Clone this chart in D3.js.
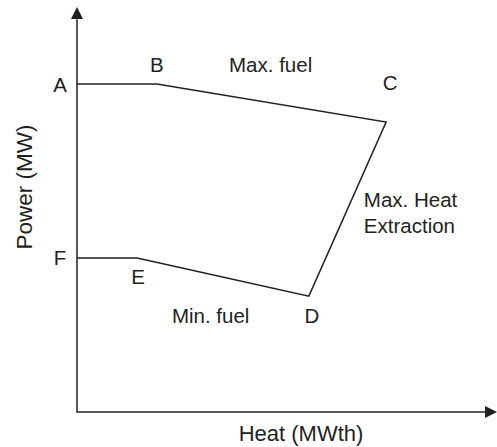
<!DOCTYPE html>
<html>
<head>
<meta charset="utf-8">
<script src="https://cdn.jsdelivr.net/npm/d3@7"></script>
<style>
body { margin: 0; background: #fff; }
text { font-family: "Liberation Sans", Arial, sans-serif; fill: #231f20; }
</style>
</head>
<body>
<script>
// operating region corners (heat, power), arbitrary units
var pointNames = ["A", "B", "C", "D", "E", "F"];
var heat  = [0, 19, 73.6, 55.2, 14.3, 0];
var power = [81, 81, 71.6, 28.6, 38, 38];

// boundary labels
var edgeNames = ["Max. fuel", "Max. Heat|Extraction", "Min. fuel"];
var edgeHeat  = [36.2, 68.3, 22.6];
var edgePower = [84, 50.6, 22];

var width = 497, height = 447;
var ink = "#231f20";

var x = d3.scaleLinear().domain([0, 100]).range([77, 497]);
var y = d3.scaleLinear().domain([0, 100]).range([412, 7]);

var svg = d3.select("body").append("svg")
    .attr("width", width)
    .attr("height", height);

var pts = pointNames.map(function(n, i) { return {name: n, h: heat[i], p: power[i]}; });

// axes with arrows
svg.append("line")
    .attr("x1", x(0)).attr("y1", y(0) + 0.75)
    .attr("x2", x(0)).attr("y2", y(97))
    .attr("stroke", ink).attr("stroke-width", 1.5);
svg.append("line")
    .attr("x1", x(0)).attr("y1", y(0))
    .attr("x2", x(98)).attr("y2", y(0))
    .attr("stroke", ink).attr("stroke-width", 1.5);

svg.append("path")
    .attr("d", "M" + x(0) + "," + y(100) + "L" + (x(0) - 6) + "," + (y(100) + 12) + "L" + (x(0) + 6) + "," + (y(100) + 12) + "Z")
    .attr("fill", ink);
svg.append("path")
    .attr("d", "M" + x(100) + "," + y(0) + "L" + (x(100) - 12) + "," + (y(0) - 6) + "L" + (x(100) - 12) + "," + (y(0) + 6) + "Z")
    .attr("fill", ink);

// region boundary
var line = d3.line()
    .x(function(d) { return x(d.h); })
    .y(function(d) { return y(d.p); });

svg.append("path")
    .datum(pts)
    .attr("d", line)
    .attr("fill", "none")
    .attr("stroke", ink)
    .attr("stroke-width", 1.5)
    .attr("stroke-linejoin", "miter");

// corner labels
var off = {A: [-17, 8], B: [0, -12], C: [4, -32], D: [3, 27], E: [1, 26], F: [-17, 7]};
svg.selectAll(".pt")
    .data(pts)
    .enter().append("text")
    .attr("class", "pt")
    .attr("x", function(d) { return x(d.h) + off[d.name][0]; })
    .attr("y", function(d) { return y(d.p) + off[d.name][1]; })
    .attr("text-anchor", "middle")
    .style("font-size", "20.5px")
    .text(function(d) { return d.name; });

// edge labels
edgeNames.forEach(function(n, i) {
  var t = svg.append("text")
      .attr("x", x(edgeHeat[i]))
      .attr("y", y(edgePower[i]))
      .style("font-size", "20.5px");
  n.split("|").forEach(function(s, j) {
    t.append("tspan")
        .attr("x", x(edgeHeat[i]))
        .attr("dy", j ? 26 : 0)
        .text(s);
  });
});

// axis titles
svg.append("text")
    .attr("x", 301).attr("y", 441)
    .attr("text-anchor", "middle")
    .style("font-size", "22px")
    .text("Heat (MWth)");

svg.append("text")
    .attr("transform", "translate(32,187) rotate(-90)")
    .attr("text-anchor", "middle")
    .style("font-size", "22.5px")
    .text("Power (MW)");
</script>
</body>
</html>
